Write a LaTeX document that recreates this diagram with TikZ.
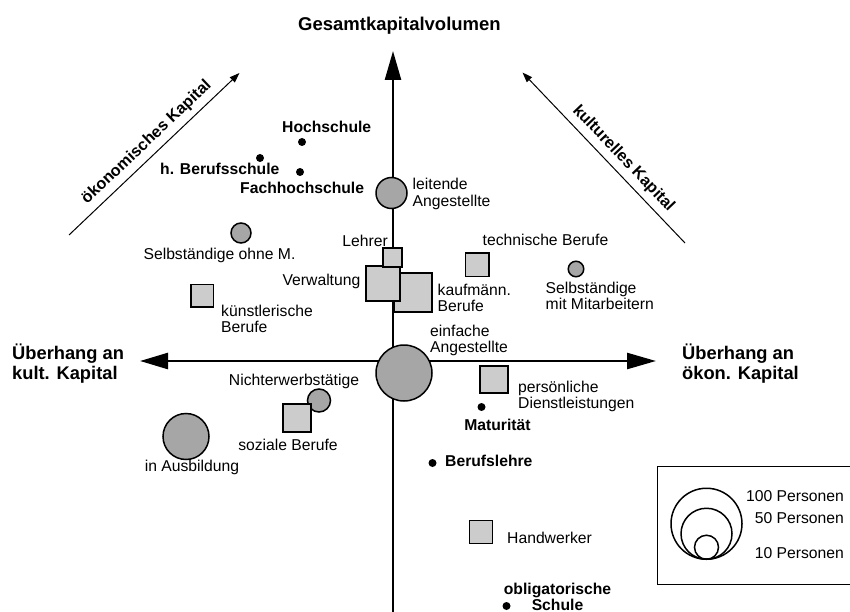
\documentclass[tikz,border=0pt]{standalone}
\usepackage{fontspec}
\setmainfont{Liberation Sans}
\usetikzlibrary{arrows.meta}
\newcommand{\twol}[2]{\begin{tabular}[t]{@{}l@{}}#1\\#2\end{tabular}}
\newcommand{\twoc}[2]{\begin{tabular}[t]{@{}c@{}}#1\\#2\end{tabular}}
\definecolor{circfill}{gray}{0.65}
\definecolor{sqfill}{gray}{0.8}
\begin{document}
\begin{tikzpicture}[x=1pt,y=-1pt,
  lbl/.style={font=\fontsize{15.7}{16}\selectfont, inner sep=0pt},
  blbl/.style={font=\fontsize{15.7}{16}\selectfont\bfseries, inner sep=0pt},
  dlbl/.style={font=\fontsize{16.2}{17}\selectfont\bfseries, inner sep=0pt},
  biglbl/.style={font=\fontsize{18.3}{20}\selectfont\bfseries, inner sep=0pt},
  grp/.style={circle, draw=black, line width=1.5pt, fill=circfill, inner sep=0pt},
  occ/.style={rectangle, draw=black, line width=1.5pt, fill=sqfill, inner sep=0pt},
  edu/.style={circle, fill=black, inner sep=0pt, minimum size=8pt},
  axis/.style={line width=2.5pt},
  diag/.style={line width=1pt},
  legc/.style={circle, draw=black, line width=1.5pt, inner sep=0pt},
]
\useasboundingbox (0,0) rectangle (850,612);

% axes
\coordinate (vTop) at (393,51);
\coordinate (vBot) at (393,612);
\coordinate (hL) at (140,361);
\coordinate (hR) at (656,361);
\draw[axis, -{Triangle[length=29pt,width=16pt]}] (vBot) -- (vTop);
\draw[axis, {Triangle[length=28pt,width=16pt]}-{Triangle[length=29pt,width=16pt]}] (hL) -- (hR);

\node[font=\fontsize{18.5}{20}\selectfont\bfseries, inner sep=0pt, anchor=base] (title) at (399.5,31) {Gesamtkapitalvolumen};
\node[biglbl, anchor=base west] (kultU) at (12,359) {\twol{Überhang an}{kult. Kapital}};
\node[biglbl, anchor=base west] (oekU) at (682,359) {\twol{Überhang an}{ökon. Kapital}};

% diagonal arrows
\coordinate (oS) at (69,235);
\coordinate (oE) at (239.5,73);
\draw[diag, -{Triangle[length=10pt,width=7pt]}] (oS) -- (oE)
  node[dlbl, pos=0.51, sloped, above=5.5pt] (oekLbl) {ökonomisches Kapital};
\coordinate (kS) at (685,243);
\coordinate (kE) at (522.5,72.5);
\draw[diag, {Triangle[length=10pt,width=7pt]}-] (kE) -- (kS)
  node[dlbl, pos=0.56, sloped, above=5.5pt] (kulLbl) {kulturelles Kapital};

% education
\node[edu] (hoch) at (302,142) {};
\node[blbl, anchor=base west] (hochL) at (282,133) {Hochschule};
\node[edu] (hberuf) at (260,158) {};
\node[blbl, anchor=base west] (hberufL) at (160,175) {h. Berufsschule};
\node[edu] (fach) at (300,172) {};
\node[blbl, anchor=base west] (fachL) at (240,194) {Fachhochschule};
\node[edu] (matur) at (481.5,407) {};
\node[blbl, anchor=base] (maturL) at (497.5,430) {Maturität};
\node[edu] (lehre) at (432.5,463) {};
\node[blbl, anchor=base west] (lehreL) at (445,466.5) {Berufslehre};
\node[edu] (oblig) at (506.5,606) {};
\node[blbl, anchor=base] (obligL) at (557.5,594) {\twoc{obligatorische}{Schule}};

% groups and occupations
\node[grp, minimum size=31pt] (leit) at (391.5,193) {};
\node[lbl, anchor=base west] (leitL) at (412.5,190) {\twol{leitende}{Angestellte}};
\node[grp, minimum size=20pt] (sohne) at (241,233) {};
\node[lbl, anchor=base] (sohneL) at (219.5,259) {Selbständige ohne M.};
\node[occ, minimum width=38pt, minimum height=39pt] (kauf) at (413,292.5) {};
\node[occ, minimum width=34pt, minimum height=35pt] (verw) at (383,283.5) {};
\node[occ, minimum size=19pt] (lehr) at (392.5,257.5) {};
\node[lbl, anchor=base east] (lehrL) at (388,246) {Lehrer};
\node[lbl, anchor=base east] (verwL) at (360.5,285) {Verwaltung};
\node[lbl, anchor=base west] (kaufL) at (437.5,295) {\twol{kaufmänn.}{Berufe}};
\node[occ, minimum size=23.5pt] (tech) at (477,264.5) {};
\node[lbl, anchor=base] (techL) at (545.5,245) {technische Berufe};
\node[grp, minimum size=15.5pt] (smit) at (576,269) {};
\node[lbl, anchor=base west] (smitL) at (545.5,293.5) {\twol{Selbständige}{mit Mitarbeitern}};
\node[occ, minimum size=22.5pt] (kuenst) at (202,295.5) {};
\node[lbl, anchor=base west] (kuenstL) at (221,316.5) {\twol{künstlerische}{Berufe}};
\node[grp, minimum size=56pt] (einf) at (404,373) {};
\node[lbl, anchor=base west] (einfL) at (430,336) {\twol{einfache}{Angestellte}};
\node[occ, minimum width=28pt, minimum height=27pt] (pers) at (494,379.5) {};
\node[lbl, anchor=base west] (persL) at (518,392) {\twol{persönliche}{Dienstleistungen}};
\node[occ, minimum size=23pt] (handw) at (481,532) {};
\node[lbl, anchor=base west] (handwL) at (507,543) {Handwerker};
\node[grp, minimum size=23pt] (nicht) at (319,400.5) {};
\node[occ, minimum size=28pt] (sozial) at (297,418) {};
\node[lbl, anchor=base] (nichtL) at (294,385) {Nichterwerbstätige};
\node[lbl, anchor=base] (sozialL) at (288,450) {soziale Berufe};
\node[grp, minimum size=46pt] (ausb) at (186,436.5) {};
\node[lbl, anchor=base] (ausbL) at (192,471) {in Ausbildung};

% legend
\draw[line width=1pt] (850,466) -- (657,466) -- (657,584.5) -- (850,584.5);
\coordinate (legB) at (706.5,560);
\node[legc, minimum size=71pt, anchor=south] (l100) at (legB) {};
\node[legc, minimum size=51pt, anchor=south] (l50) at (legB) {};
\node[legc, minimum size=24pt, anchor=south] (l10) at (legB) {};
\node[lbl, anchor=base east] (t100) at (844,501.5) {100 Personen};
\node[lbl, anchor=base east] (t50) at (844,523) {50 Personen};
\node[lbl, anchor=base east] (t10) at (844,558) {10 Personen};
\end{tikzpicture}
\end{document}
